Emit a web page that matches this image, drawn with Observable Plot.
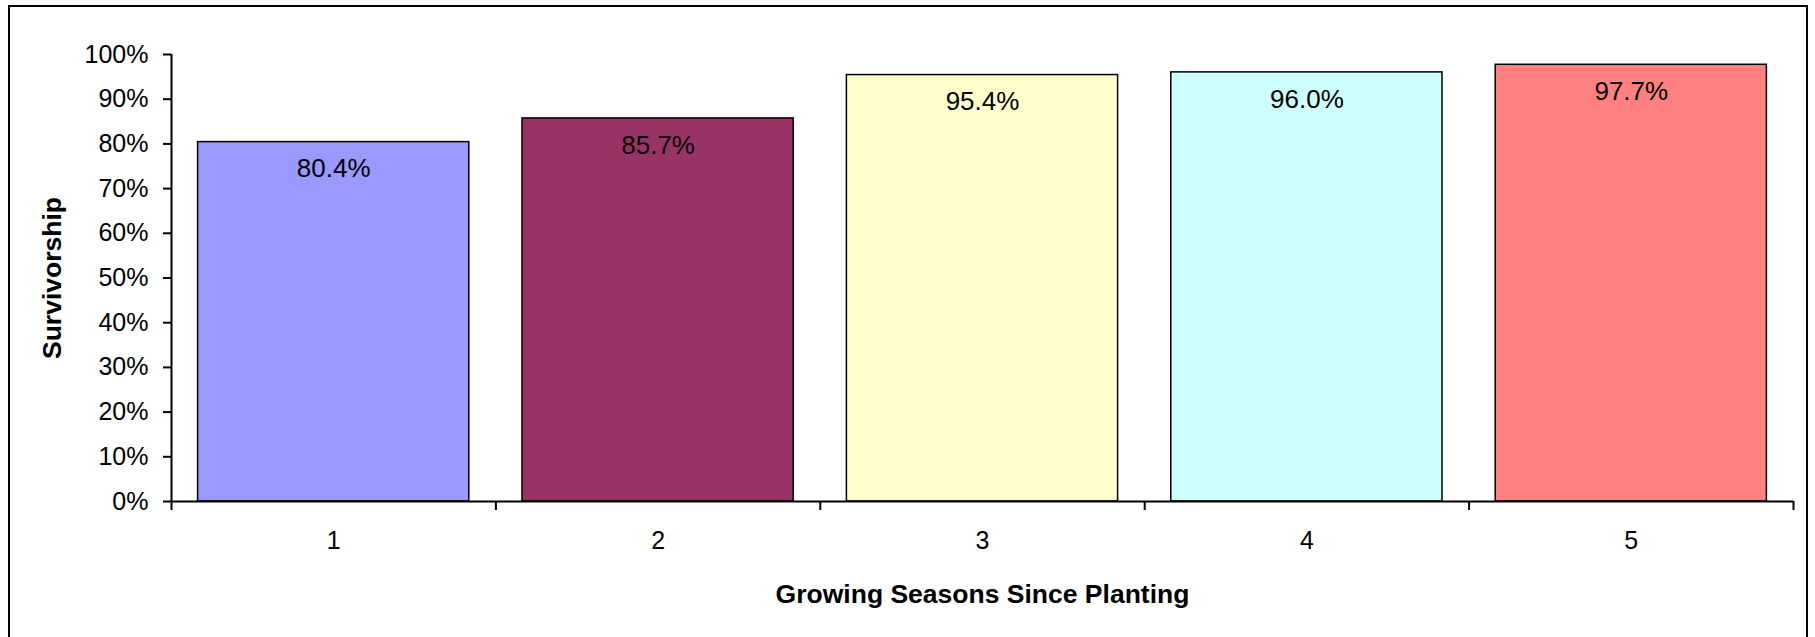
<!DOCTYPE html>
<html>
<head>
<meta charset="utf-8">
<script src="https://cdn.jsdelivr.net/npm/d3@7"></script>
<script src="https://cdn.jsdelivr.net/npm/@observablehq/plot@0.6"></script>
<style>
  html, body { margin: 0; padding: 0; background: #fff; }
  #wrap { position: relative; width: 1815px; height: 637px; overflow: hidden; }
  #frame { position: absolute; left: 8px; top: 5px; width: 1800px; height: 640px; border: 2px solid #000; box-sizing: border-box; pointer-events: none; }
  svg { font-family: "Liberation Sans", Arial, sans-serif; }
</style>
</head>
<body>
<div id="wrap"><div id="frame"></div></div>
<script>
const seasons = [1, 2, 3, 4, 5];
const survivorship = [0.804, 0.857, 0.954, 0.960, 0.977];
const labels = ["80.4%", "85.7%", "95.4%", "96.0%", "97.7%"];
const colors = ["#9999FF", "#993366", "#FFFFCC", "#CCFFFF", "#FF8080"];
const yTicks = [0, 0.1, 0.2, 0.3, 0.4, 0.5, 0.6, 0.7, 0.8, 0.9, 1.0];

const data = seasons.map((s, i) => ({season: s, value: survivorship[i], label: labels[i], color: colors[i]}));
const half = 0.418;
const boundaries = [seasons[0] - 0.5, ...seasons.map(s => s + 0.5)];

const chart = Plot.plot({
  width: 1815,
  height: 637,
  marginLeft: 171,
  marginRight: 22,
  marginTop: 54,
  marginBottom: 136,
  style: {fontFamily: '"Liberation Sans", Arial, sans-serif', background: "transparent"},
  x: {domain: [seasons[0] - 0.5, seasons[seasons.length - 1] + 0.5]},
  y: {domain: [0, 1]},
  marks: [
    Plot.rectY(data, {
      x1: d => d.season - half,
      x2: d => d.season + half,
      y1: 0,
      y2: "value",
      fill: "color",
      stroke: "#000",
      strokeWidth: 1.5
    }),
    Plot.text(data, {
      x: "season",
      y: "value",
      text: "label",
      dy: 27,
      fontSize: 26,
      fill: "#000",
      lineAnchor: "middle"
    }),
    Plot.axisY({
      ticks: yTicks,
      tickFormat: d3.format(".0%"),
      tickSize: 8,
      tickPadding: 15,
      fontSize: 25,
      color: "#000",
      strokeWidth: 2,
      label: null
    }),
    Plot.ruleX([0], {x: () => seasons[0] - 0.5, stroke: "#000", strokeWidth: 2}),
    Plot.axisX({
      ticks: boundaries,
      tickFormat: () => "",
      tickSize: 9,
      strokeWidth: 2,
      color: "#000",
      label: null
    }),
    Plot.axisX({
      ticks: seasons,
      tickFormat: d => String(d),
      tickSize: 0,
      tickPadding: 30,
      fontSize: 25,
      color: "#000",
      label: null
    }),
    Plot.ruleY([0], {stroke: "#000", strokeWidth: 2}),
    Plot.text(["Survivorship"], {
      frameAnchor: "left",
      dx: -119,
      rotate: -90,
      fontSize: 26.5,
      fontWeight: "bold",
      fill: "#000",
      lineAnchor: "middle",
      textAnchor: "middle"
    }),
    Plot.text(["Growing Seasons Since Planting"], {
      frameAnchor: "bottom",
      dy: 93,
      fontSize: 26.5,
      fontWeight: "bold",
      fill: "#000",
      lineAnchor: "middle",
      textAnchor: "middle"
    })
  ]
});
document.getElementById("wrap").prepend(chart);
</script>
</body>
</html>
